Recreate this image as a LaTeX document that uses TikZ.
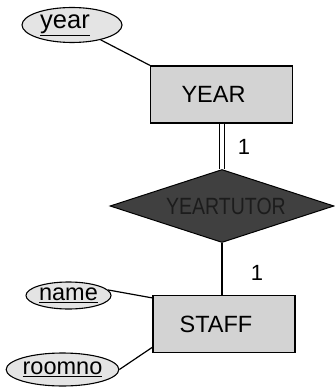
\documentclass[tikz,border=0pt]{standalone}
\usepackage{fontspec}
\setmainfont{Liberation Sans}
\usetikzlibrary{shapes.geometric}
\definecolor{entityfill}{HTML}{D3D3D3}
\definecolor{attrfill}{HTML}{E4E4E4}
\definecolor{relfill}{HTML}{404040}
\definecolor{reltext}{HTML}{1C1C1C}
\tikzset{
  entity/.style={draw=black, line width=1.3pt, fill=entityfill, minimum width=142pt,
    minimum height=57pt, inner sep=0pt, font=\fontsize{23.5}{26}\selectfont},
  attr/.style={draw=black, line width=1.1pt, ellipse, fill=attrfill, inner sep=0pt,
    font=\fontsize{23.5}{26}\selectfont},
  relation/.style={draw=black, line width=1pt, diamond, fill=relfill, text=reltext,
    minimum width=224pt, minimum height=73pt, inner sep=0pt, aspect=3.1,
    font=\fontsize{23.5}{26}\selectfont},
  link/.style={line width=1.2pt, black},
  card/.style={font=\fontsize{22}{24}\selectfont, inner sep=0pt}
}
\begin{document}
\begin{tikzpicture}[x=1pt,y=-1pt]
  \useasboundingbox (0,0) rectangle (334,387);
  % entities (labels sit a little left of centre)
  \node[entity] (YEAR) at (221.5,94.5) {\hspace*{-16pt}YEAR};
  \node[entity] (STAFF) at (224,324) {\hspace*{-16pt}STAFF};
  % relationship
  \node[relation] (YT) at (222,206) {\hspace*{8pt}\scalebox{0.83}[1]{YEARTUTOR}};
  % attributes
  \node[attr, minimum width=100pt, minimum height=35pt] (year) at (72,25)
    {\fontsize{25.5}{28}\selectfont\underline{year}\hspace*{14pt}};
  \node[attr, minimum width=85pt, minimum height=27pt] (name) at (68.5,295.5) {\underline{name}};
  \node[attr, minimum width=111pt, minimum height=33pt] (roomno) at (62.5,369.5) {\underline{roomno}};
  % connectors
  \draw[link] (year) -- (YEAR.north west);
  \draw[line width=1pt, double, double distance=4pt] (YEAR.south -| YT.north) -- (YT.north);
  \draw[link] (YT.south) -- (YT.south |- STAFF.north);
  \draw[link] (name.8) -- (STAFF.160);
  \draw[link] (roomno.east) -- (STAFF.198);
  % cardinalities
  \node[card] (c1) at (244,147) {1};
  \node[card] (c2) at (257,273) {1};
\end{tikzpicture}
\end{document}
